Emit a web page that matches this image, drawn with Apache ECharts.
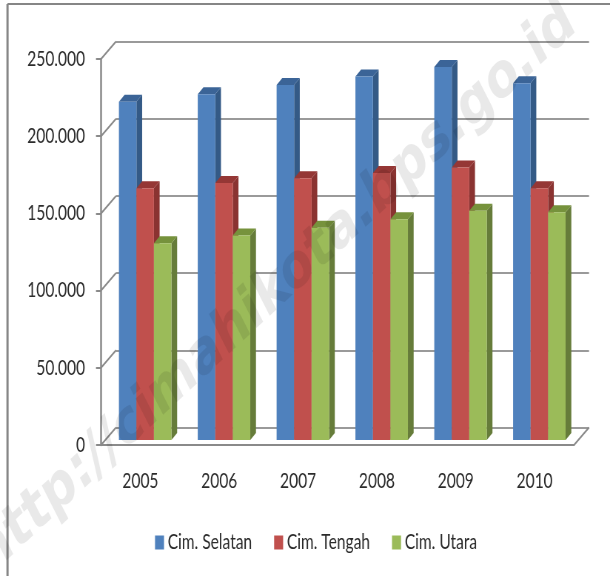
<!DOCTYPE html>
<html>
<head>
<meta charset="utf-8">
<style>
html,body{margin:0;padding:0;background:#fff;overflow:hidden;width:610px;height:576px}
/* original picture is squeezed sideways and soft, so the chart is drawn wide and pressed back */
#main{width:824px;height:576px;transform:scaleX(0.7403);transform-origin:0 0;filter:blur(0.45px)}
</style>
<script src="https://cdn.jsdelivr.net/npm/echarts@6/dist/echarts.min.js"></script>
</head>
<body>
<div id="main"></div>
<script>
var years = ['2005', '2006', '2007', '2008', '2009', '2010'];
var selatan = [219000, 224000, 230000, 235500, 241500, 231000];
var tengah = [163000, 166500, 169500, 173000, 176500, 163000];
var utara = [127500, 132500, 137500, 143000, 148500, 147500];
var yTicks = [0, 50000, 100000, 150000, 200000, 250000];

var k = 824 / 610;
var labelFont = 'Lato, "Liberation Sans", sans-serif';
var lineColor = '#8a8a8a';
var barW = 17.5 * k, startOff = -21.5 * k, depthX = 5.7 * k, depthY = 7, liftY = 5;

function poly(pts, color) {
	return { type: 'polygon', shape: { points: pts }, style: { fill: color } };
}

// one 3d bar: front, top and side face
function barItem(slot, front, top, side) {
	return function (params, api) {
		var p = api.coord([api.value(0), api.value(1)]);
		var base = api.coord([api.value(0), 0]);
		var x0 = p[0] + startOff + slot * barW, x1 = x0 + barW;
		var y0 = p[1] - liftY, y1 = base[1] - liftY;
		return {
			type: 'group',
			children: [
				poly([[x1, y0], [x1 + depthX, y0 - depthY], [x1 + depthX, y1 - depthY], [x1, y1]], side),
				poly([[x0, y0], [x0 + depthX, y0 - depthY], [x1 + depthX, y0 - depthY], [x1, y0]], top),
				poly([[x0, y0], [x1, y0], [x1, y1], [x0, y1]], front)
			]
		};
	};
}

function barSeries(name, values, slot, front, top, side) {
	return {
		name: name,
		type: 'custom',
		xAxisIndex: 0,
		yAxisIndex: 0,
		z: 3 + slot,
		clip: false,
		silent: true,
		itemStyle: { color: front },
		encode: { x: 0, y: 1 },
		renderItem: barItem(slot, front, top, side),
		data: values.map(function (v, i) { return [i, v]; })
	};
}

// side wall and floor lines joining the front axes to the back wall
function wallItem(params, api) {
	var v = api.value(1);
	var y = api.coord([0, v])[1];
	var x = params.coordSys.x;
	var st = { stroke: lineColor, lineWidth: 2, fill: null };
	var kids = [{ type: 'line', shape: { x1: x, y1: y, x2: x + 15 * k, y2: y - 17.5 }, style: st }];
	if (v === 0) {
		var xr = x + params.coordSys.width;
		kids.push({ type: 'line', shape: { x1: xr, y1: y, x2: xr + 15 * k, y2: y - 17.5 }, style: st });
	}
	return { type: 'group', children: kids };
}

var chart = echarts.init(document.getElementById('main'));
chart.setOption({
	animation: false,
	backgroundColor: '#fff',
	legend: {
		data: ['Cim. Selatan', 'Cim. Tengah', 'Cim. Utara'],
		left: 155 * k,
		top: 532,
		padding: 0,
		icon: 'rect',
		itemWidth: 9 * k,
		itemHeight: 14,
		itemGap: 22 * k,
		textStyle: { fontFamily: labelFont, fontSize: 21, color: '#2b2b2b' }
	},
	grid: [
		{ left: 101 * k, top: 59, width: 473 * k, height: 386 },
		{ left: 116 * k, top: 41.5, width: 473 * k, height: 386 }
	],
	xAxis: [
		{
			type: 'category',
			data: years,
			gridIndex: 0,
			axisLine: { lineStyle: { color: lineColor, width: 2 } },
			axisTick: { length: 8, lineStyle: { color: lineColor, width: 2 } },
			axisLabel: { margin: 26, fontFamily: labelFont, fontSize: 21, color: '#2b2b2b' }
		},
		{ type: 'category', data: years, gridIndex: 1, show: false }
	],
	yAxis: [
		{
			type: 'value',
			gridIndex: 0,
			min: 0,
			max: 250000,
			interval: 50000,
			axisLine: { show: true, lineStyle: { color: lineColor, width: 2.5 } },
			axisTick: { show: true, length: 5 * k, lineStyle: { color: lineColor, width: 2 } },
			splitLine: { show: false },
			axisLabel: {
				margin: 16 * k,
				padding: [3, 0, 0, 0],
				fontFamily: labelFont,
				fontSize: 21,
				color: '#2b2b2b',
				formatter: function (v) { return v === 0 ? '0' : (v / 1000) + '.000'; }
			}
		},
		{
			type: 'value',
			gridIndex: 1,
			min: 0,
			max: 250000,
			interval: 50000,
			axisLine: { show: false },
			axisTick: { show: false },
			axisLabel: { show: false },
			splitLine: { show: true, lineStyle: { color: '#9a9a9a', width: 2 } }
		}
	],
	series: [
		{
			name: 'walls',
			type: 'custom',
			xAxisIndex: 0,
			yAxisIndex: 0,
			z: 1,
			clip: false,
			silent: true,
			encode: { x: 0, y: 1 },
			renderItem: wallItem,
			data: yTicks.map(function (v) { return [0, v]; })
		},
		barSeries('Cim. Selatan', selatan, 0, '#4f81bd', '#3b6497', '#345a86'),
		barSeries('Cim. Tengah', tengah, 1, '#c0504d', '#953735', '#8a3331'),
		barSeries('Cim. Utara', utara, 2, '#9bbb59', '#76923c', '#667c3a')
	],
	graphic: [
		{ type: 'line', z: 20, silent: true, shape: { x1: 7.5 * k, y1: 4, x2: 610 * k, y2: 4 }, style: { stroke: '#868686', lineWidth: 2 } },
		{ type: 'line', z: 20, silent: true, shape: { x1: 7.5 * k, y1: 4, x2: 7.5 * k, y2: 576 }, style: { stroke: '#868686', lineWidth: 3 } },
		{
			type: 'text',
			z: 30,
			silent: true,
			x: -18 * k,
			y: 563,
			rotation: Math.PI * 34.5 / 180,
			style: {
				text: 'http://cimahikota.bps.go.id',
				font: 'bold 63px "DejaVu Sans", sans-serif',
				fill: 'rgba(0,0,0,0.085)',
				textVerticalAlign: 'middle'
			}
		}
	]
});
</script>
</body>
</html>
